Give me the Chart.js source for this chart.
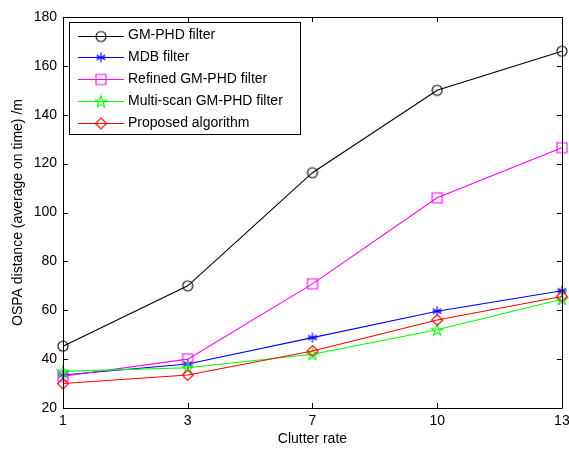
<!DOCTYPE html>
<html>
<head>
<meta charset="utf-8">
<script src="https://cdn.jsdelivr.net/npm/chart.js@4/dist/chart.umd.min.js"></script>
<style>
  html, body { margin: 0; padding: 0; background: #fff; }
  #wrap { width: 569px; height: 450px; }
</style>
</head>
<body>
<div id="wrap"><canvas id="chart" width="569" height="450"></canvas></div>
<script>
// data
const clutterRates = ['1', '3', '7', '10', '13'];
const gmPhd = [45.3, 70, 116.3, 150, 166];
const mdb = [33.5, 38, 48.8, 59.6, 68];
const refinedGmPhd = [33, 40, 70.8, 106, 126.5];
const multiScan = [35, 36.5, 42, 52, 64.5];
const proposed = [30, 33.5, 43.3, 56, 65.6];
const yTicks = [20, 40, 60, 80, 100, 120, 140, 160, 180];

const FONT = '"Liberation Sans", Arial, Helvetica, sans-serif';

// marker images (MATLAB-like symbols)
function marker(kind, color) {
  const c = document.createElement('canvas');
  c.width = 16; c.height = 16;
  const g = c.getContext('2d');
  g.strokeStyle = color;
  g.lineWidth = 1.1;
  g.beginPath();
  if (kind === 'o') {
    g.arc(8, 8, 5, 0, Math.PI * 2);
  } else if (kind === 's') {
    g.rect(3, 3, 10, 10);
  } else if (kind === 'd') {
    g.moveTo(8, 2.5); g.lineTo(13.5, 8); g.lineTo(8, 13.5); g.lineTo(2.5, 8); g.closePath();
  } else if (kind === '*') {
    g.moveTo(8, 3); g.lineTo(8, 13);
    g.moveTo(3.7, 5.5); g.lineTo(12.3, 10.5);
    g.moveTo(3.7, 10.5); g.lineTo(12.3, 5.5);
    g.moveTo(3, 8); g.lineTo(13, 8);
  } else if (kind === 'p') {
    for (let i = 0; i < 10; i++) {
      const r = i % 2 === 0 ? 6 : 2.4;
      const a = -Math.PI / 2 + i * Math.PI / 5;
      const x = 8 + r * Math.cos(a), y = 8.5 + r * Math.sin(a);
      if (i === 0) g.moveTo(x, y); else g.lineTo(x, y);
    }
    g.closePath();
  }
  g.stroke();
  return c;
}

const series = [
  { label: 'GM-PHD filter', data: gmPhd, color: '#000000', sym: 'o' },
  { label: 'MDB filter', data: mdb, color: '#0000ff', sym: '*' },
  { label: 'Refined GM-PHD filter', data: refinedGmPhd, color: '#ff00ff', sym: 's' },
  { label: 'Multi-scan GM-PHD filter', data: multiScan, color: '#00ff00', sym: 'p' },
  { label: 'Proposed algorithm', data: proposed, color: '#ff0000', sym: 'd' },
];

const datasets = series.map((s, i) => ({
  label: s.label,
  data: s.data,
  borderColor: s.color,
  backgroundColor: s.color,
  borderWidth: 1.1,
  pointStyle: marker(s.sym, s.color),
  pointRadius: 6,
  tension: 0,
  order: 4 - i,
}));

// box around the axes with inward ticks, plus a MATLAB style legend
const framePlugin = {
  id: 'frame',
  afterDatasetsDraw(chart) {
    const { ctx, chartArea: a, scales } = chart;
    ctx.save();
    ctx.strokeStyle = '#000';
    ctx.lineWidth = 1;
    ctx.beginPath();
    ctx.rect(Math.round(a.left) + 0.5, Math.round(a.top) + 0.5,
      Math.round(a.right - a.left), Math.round(a.bottom - a.top));
    ctx.stroke();
    ctx.beginPath();
    yTicks.forEach(v => {
      const y = Math.round(scales.y.getPixelForValue(v)) + 0.5;
      ctx.moveTo(a.left, y); ctx.lineTo(a.left + 5, y);
      ctx.moveTo(a.right, y); ctx.lineTo(a.right - 5, y);
    });
    clutterRates.forEach((c, i) => {
      const x = Math.round(scales.x.getPixelForValue(i)) + 0.5;
      ctx.moveTo(x, a.bottom); ctx.lineTo(x, a.bottom - 5);
      ctx.moveTo(x, a.top); ctx.lineTo(x, a.top + 5);
    });
    ctx.stroke();

    // legend
    const lx = 69.5, ly = 22.5, lw = 231, lh = 112;
    ctx.fillStyle = '#fff';
    ctx.fillRect(lx, ly, lw, lh);
    ctx.strokeRect(lx, ly, lw, lh);
    ctx.font = '14px ' + FONT;
    ctx.textBaseline = 'middle';
    chart.data.datasets.forEach((ds, i) => {
      const y = 35.5 + i * 21.8;
      ctx.strokeStyle = ds.borderColor;
      ctx.beginPath();
      ctx.moveTo(78, Math.round(y) + 0.5); ctx.lineTo(124, Math.round(y) + 0.5);
      ctx.stroke();
      ctx.drawImage(ds.pointStyle, 101 - 8, Math.round(y) - 7.5);
      ctx.fillStyle = '#000';
      ctx.fillText(ds.label, 128, y);
    });
    ctx.restore();
  }
};

new Chart(document.getElementById('chart'), {
  type: 'line',
  data: { labels: clutterRates, datasets },
  options: {
    responsive: false,
    animation: false,
    devicePixelRatio: 1,
    layout: { padding: { top: 17, right: 7, left: 0, bottom: 0 } },
    plugins: { legend: { display: false }, tooltip: { enabled: false } },
    scales: {
      x: {
        type: 'category',
        offset: false,
        grid: { display: false, drawTicks: false },
        border: { display: false },
        ticks: { color: '#000', font: { family: FONT, size: 14 }, padding: 5, maxRotation: 0, autoSkip: false },
        title: { display: true, text: 'Clutter rate', color: '#000', font: { family: FONT, size: 14 }, padding: { top: 1, bottom: 2 } },
        afterFit(s) { s.height = 42; s.paddingLeft = 0; s.paddingRight = 0; },
      },
      y: {
        min: 20,
        max: 180,
        grid: { display: false, drawTicks: false },
        border: { display: false },
        ticks: { stepSize: 20, color: '#000', font: { family: FONT, size: 14 }, padding: 6 },
        title: { display: true, text: 'OSPA distance (average on time) /m', color: '#000', font: { family: FONT, size: 14 }, padding: { top: 10, bottom: 4 } },
        afterFit(s) { s.width = 63; s.paddingTop = 0; s.paddingBottom = 0; },
      },
    },
  },
  plugins: [framePlugin],
});
</script>
</body>
</html>
